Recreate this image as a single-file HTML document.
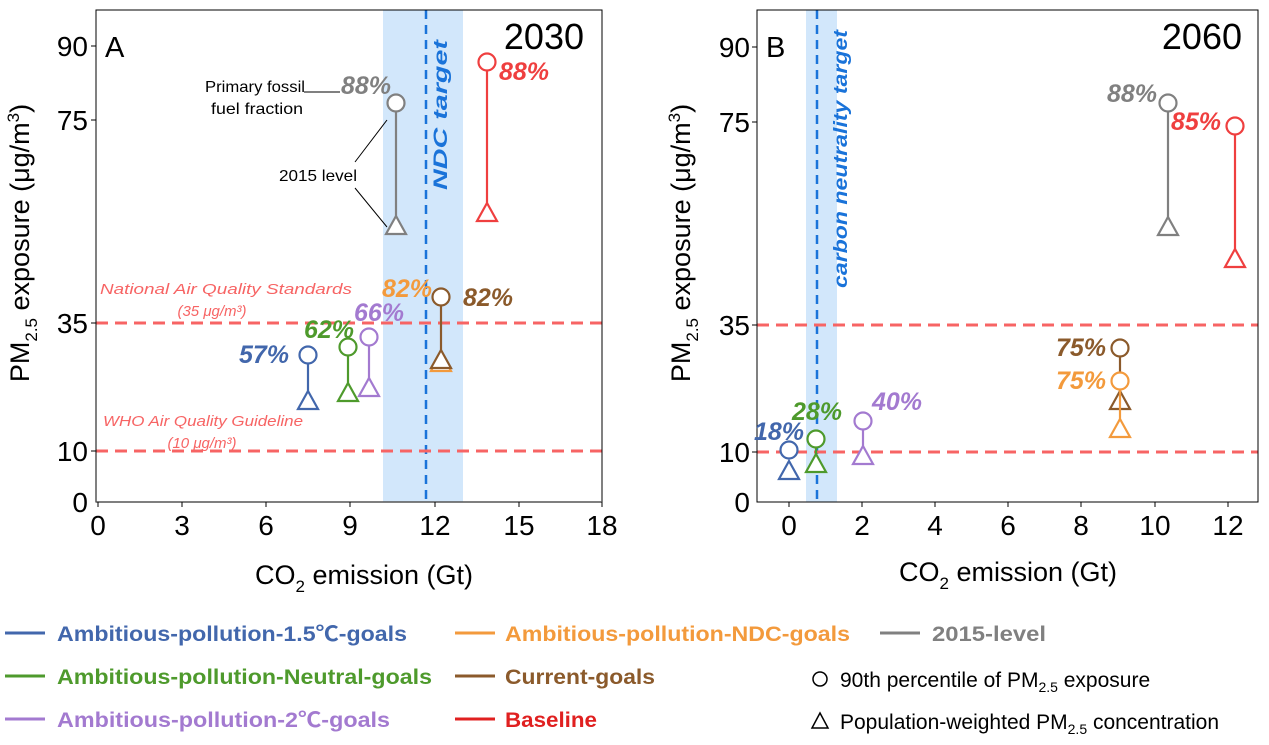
<!DOCTYPE html>
<html><head><meta charset="utf-8"><style>
html,body{margin:0;padding:0;background:#fff;}
svg{display:block;font-family:"Liberation Sans","Noto Sans CJK SC",sans-serif;}
.tk{font-size:28px;fill:#000;}
.pc{font-size:25px;font-weight:bold;font-style:italic;}
.lg{font-size:21px;font-weight:bold;}
</style></head><body>
<svg width="1269" height="745" viewBox="0 0 1269 745" xmlns="http://www.w3.org/2000/svg">
<!-- Panel A -->
<rect x="383" y="10" width="80" height="492" fill="#d2e7fb"/>
<line x1="426" y1="10" x2="426" y2="502" stroke="#1a73d9" stroke-width="2.5" stroke-dasharray="9,6"/>
<text transform="translate(447,190) rotate(-90)" font-size="19" font-weight="bold" font-style="italic" fill="#1a73d9" textLength="150" lengthAdjust="spacingAndGlyphs">NDC target</text>
<line x1="96" y1="323" x2="602" y2="323" stroke="#f76464" stroke-width="3" stroke-dasharray="12,7"/>
<line x1="96" y1="451" x2="602" y2="451" stroke="#f76464" stroke-width="3" stroke-dasharray="12,7"/>
<rect x="96" y="10" width="506" height="492" fill="none" stroke="#000" stroke-width="1"/>
<line x1="96" y1="502" x2="602" y2="502" stroke="#555" stroke-width="1.5"/>
<g class="tk" text-anchor="end">
<text x="88" y="56">90</text><text x="88" y="130">75</text><text x="88" y="333">35</text><text x="88" y="461">10</text><text x="88" y="512">0</text>
</g>
<g stroke="#000"><line x1="91" y1="46" x2="96" y2="46"/><line x1="91" y1="120" x2="96" y2="120"/><line x1="91" y1="323" x2="96" y2="323"/><line x1="91" y1="451" x2="96" y2="451"/>
<line x1="98" y1="502" x2="98" y2="507"/><line x1="182" y1="502" x2="182" y2="507"/><line x1="266" y1="502" x2="266" y2="507"/><line x1="350" y1="502" x2="350" y2="507"/><line x1="435" y1="502" x2="435" y2="507"/><line x1="519" y1="502" x2="519" y2="507"/><line x1="602" y1="502" x2="602" y2="507"/></g>
<g class="tk" text-anchor="middle">
<text x="98" y="535">0</text><text x="182" y="535">3</text><text x="266" y="535">6</text><text x="350" y="535">9</text><text x="435" y="535">12</text><text x="519" y="535">15</text><text x="602" y="535">18</text>
</g>
<text x="364" y="584" font-size="27" text-anchor="middle">CO<tspan font-size="17" dy="8">2</tspan><tspan dy="-8"> emission (Gt)</tspan></text>
<text transform="translate(29,243) rotate(-90)" font-size="27" text-anchor="middle">PM<tspan font-size="17" dy="8">2.5</tspan><tspan dy="-8"> exposure (μg/m</tspan><tspan font-size="17" dy="-10">3</tspan><tspan dy="10">)</tspan></text>
<text x="105" y="57" font-size="29">A</text>
<text x="584" y="49" font-size="36" text-anchor="end">2030</text>
<text x="226" y="294" font-size="15" font-style="italic" fill="#f76464" text-anchor="middle" textLength="252" lengthAdjust="spacingAndGlyphs">National Air Quality Standards</text>
<text x="212" y="316" font-size="15" font-style="italic" fill="#f76464" text-anchor="middle">(35 μg/m³)</text>
<text x="203" y="426" font-size="15" font-style="italic" fill="#f76464" text-anchor="middle" textLength="200" lengthAdjust="spacingAndGlyphs">WHO Air Quality Guideline</text>
<text x="202" y="448" font-size="15" font-style="italic" fill="#f76464" text-anchor="middle">(10 μg/m³)</text>
<text x="255" y="92" font-size="16" text-anchor="middle" textLength="100" lengthAdjust="spacingAndGlyphs">Primary fossil</text>
<text x="257" y="114" font-size="16" text-anchor="middle" textLength="92" lengthAdjust="spacingAndGlyphs">fuel fraction</text>
<line x1="304" y1="92" x2="340" y2="92" stroke="#000" stroke-width="1"/>
<text x="318" y="181" font-size="16" text-anchor="middle" textLength="78" lengthAdjust="spacingAndGlyphs">2015 level</text>
<path d="M355 162 L387 120 M355 188 L387 227" stroke="#000" stroke-width="1" fill="none"/>
<!-- series A -->
<g fill="#fff" stroke-width="2.2">
<g stroke="#808080"><line x1="396" y1="112" x2="396" y2="217"/><circle cx="396" cy="103" r="8.5"/><path d="M386 234 L396 216 L406 234 Z"/></g>
<g stroke="#ef3f3f"><line x1="487" y1="71" x2="487" y2="204"/><circle cx="487" cy="62" r="8.5"/><path d="M477 221 L487 203 L497 221 Z"/></g>
<g stroke="#f39a3c"><path d="M431 371 L441 353 L451 371 Z"/></g>
<g stroke="#8b5a2b"><line x1="441" y1="306" x2="441" y2="354"/><circle cx="441" cy="297" r="8.5"/><path d="M431 368 L441 350 L451 368 Z"/></g>
<g stroke="#a37ad0"><line x1="369" y1="346" x2="369" y2="380"/><circle cx="369" cy="337" r="8.5"/><path d="M359 396 L369 378 L379 396 Z"/></g>
<g stroke="#4e9a2c"><line x1="348" y1="356" x2="348" y2="385"/><circle cx="348" cy="347" r="8.5"/><path d="M338 401 L348 383 L358 401 Z"/></g>
<g stroke="#4267ac"><line x1="308" y1="364" x2="308" y2="392"/><circle cx="308" cy="355" r="8.5"/><path d="M298 409 L308 391 L318 409 Z"/></g>
</g>
<text x="341" y="94" class="pc" fill="#808080">88%</text>
<text x="499" y="80" class="pc" fill="#ef3f3f">88%</text>
<text x="382" y="297" class="pc" fill="#f39a3c">82%</text>
<text x="463" y="306" class="pc" fill="#8b5a2b">82%</text>
<text x="354" y="321" class="pc" fill="#a37ad0">66%</text>
<text x="304" y="338" class="pc" fill="#4e9a2c">62%</text>
<text x="239" y="363" class="pc" fill="#4267ac">57%</text>

<!-- Panel B -->
<rect x="806" y="10" width="31" height="492" fill="#d2e7fb"/>
<line x1="817" y1="10" x2="817" y2="502" stroke="#1a73d9" stroke-width="2.5" stroke-dasharray="9,6"/>
<text transform="translate(847,288) rotate(-90)" font-size="19" font-weight="bold" font-style="italic" fill="#1a73d9" textLength="258" lengthAdjust="spacingAndGlyphs">carbon neutrality target</text>
<line x1="757" y1="325" x2="1258" y2="325" stroke="#f76464" stroke-width="3" stroke-dasharray="12,7"/>
<line x1="757" y1="452" x2="1258" y2="452" stroke="#f76464" stroke-width="3" stroke-dasharray="12,7"/>
<rect x="757" y="10" width="501" height="492" fill="none" stroke="#000" stroke-width="1"/>
<g class="tk" text-anchor="end">
<text x="750" y="57">90</text><text x="750" y="132">75</text><text x="750" y="335">35</text><text x="750" y="462">10</text><text x="750" y="512">0</text>
</g>
<g stroke="#000"><line x1="752" y1="47" x2="757" y2="47"/><line x1="752" y1="122" x2="757" y2="122"/><line x1="752" y1="325" x2="757" y2="325"/><line x1="752" y1="452" x2="757" y2="452"/>
<line x1="789" y1="502" x2="789" y2="507"/><line x1="862" y1="502" x2="862" y2="507"/><line x1="935" y1="502" x2="935" y2="507"/><line x1="1008" y1="502" x2="1008" y2="507"/><line x1="1081" y1="502" x2="1081" y2="507"/><line x1="1155" y1="502" x2="1155" y2="507"/><line x1="1228" y1="502" x2="1228" y2="507"/></g>
<g class="tk" text-anchor="middle">
<text x="789" y="535">0</text><text x="862" y="535">2</text><text x="935" y="535">4</text><text x="1008" y="535">6</text><text x="1081" y="535">8</text><text x="1155" y="535">10</text><text x="1228" y="535">12</text>
</g>
<text x="1008" y="581" font-size="27" text-anchor="middle">CO<tspan font-size="17" dy="8">2</tspan><tspan dy="-8"> emission (Gt)</tspan></text>
<text transform="translate(690,243) rotate(-90)" font-size="27" text-anchor="middle">PM<tspan font-size="17" dy="8">2.5</tspan><tspan dy="-8"> exposure (μg/m</tspan><tspan font-size="17" dy="-10">3</tspan><tspan dy="10">)</tspan></text>
<text x="766" y="57" font-size="29">B</text>
<text x="1242" y="49" font-size="36" text-anchor="end">2060</text>
<g fill="#fff" stroke-width="2.2">
<g stroke="#808080"><line x1="1168" y1="112" x2="1168" y2="218"/><circle cx="1168" cy="103" r="8.5"/><path d="M1158 235 L1168 217 L1178 235 Z"/></g>
<g stroke="#ef3f3f"><line x1="1235" y1="135" x2="1235" y2="250"/><circle cx="1235" cy="126" r="8.5"/><path d="M1225 267 L1235 249 L1245 267 Z"/></g>
<g stroke="#8b5a2b"><line x1="1120" y1="357" x2="1120" y2="392"/><circle cx="1120" cy="348" r="8.5"/><path d="M1110 409 L1120 391 L1130 409 Z"/></g>
<g stroke="#f39a3c"><line x1="1120" y1="390" x2="1120" y2="420"/><circle cx="1120" cy="381" r="8.5"/><path d="M1110 437 L1120 419 L1130 437 Z"/></g>
<g stroke="#a37ad0"><line x1="863" y1="430" x2="863" y2="447"/><circle cx="863" cy="421" r="8.5"/><path d="M853 464 L863 446 L873 464 Z"/></g>
<g stroke="#4e9a2c"><line x1="816" y1="447" x2="816" y2="455"/><circle cx="816" cy="439" r="8.5"/><path d="M806 472 L816 454 L826 472 Z"/></g>
<g stroke="#4267ac"><circle cx="789" cy="450" r="8.5"/><path d="M779 479 L789 461 L799 479 Z"/></g>
</g>
<text x="1107" y="102" class="pc" fill="#808080">88%</text>
<text x="1171" y="130" class="pc" fill="#ef3f3f">85%</text>
<text x="1056" y="356" class="pc" fill="#8b5a2b">75%</text>
<text x="1056" y="389" class="pc" fill="#f39a3c">75%</text>
<text x="872" y="410" class="pc" fill="#a37ad0">40%</text>
<text x="792" y="420" class="pc" fill="#4e9a2c">28%</text>
<text x="754" y="440" class="pc" fill="#4267ac">18%</text>

<!-- Legend -->
<g stroke-width="3">
<line x1="5" y1="633" x2="45" y2="633" stroke="#4267ac"/>
<line x1="5" y1="676" x2="45" y2="676" stroke="#4e9a2c"/>
<line x1="5" y1="719" x2="45" y2="719" stroke="#a37ad0"/>
<line x1="455" y1="633" x2="495" y2="633" stroke="#f39a3c"/>
<line x1="455" y1="676" x2="495" y2="676" stroke="#8b5a2b"/>
<line x1="455" y1="719" x2="495" y2="719" stroke="#e02020"/>
<line x1="880" y1="633" x2="920" y2="633" stroke="#808080"/>
</g>
<text x="57" y="641" class="lg" fill="#4267ac" textLength="350" lengthAdjust="spacingAndGlyphs">Ambitious-pollution-1.5℃-goals</text>
<text x="57" y="684" class="lg" fill="#4e9a2c" textLength="375" lengthAdjust="spacingAndGlyphs">Ambitious-pollution-Neutral-goals</text>
<text x="57" y="727" class="lg" fill="#a37ad0" textLength="333" lengthAdjust="spacingAndGlyphs">Ambitious-pollution-2℃-goals</text>
<text x="505" y="641" class="lg" fill="#f39a3c" textLength="345" lengthAdjust="spacingAndGlyphs">Ambitious-pollution-NDC-goals</text>
<text x="505" y="684" class="lg" fill="#8b5a2b" textLength="150" lengthAdjust="spacingAndGlyphs">Current-goals</text>
<text x="505" y="727" class="lg" fill="#e02020" textLength="92" lengthAdjust="spacingAndGlyphs">Baseline</text>
<text x="932" y="641" class="lg" fill="#808080" textLength="114" lengthAdjust="spacingAndGlyphs">2015-level</text>
<circle cx="820" cy="679" r="7" fill="none" stroke="#000" stroke-width="1.5"/>
<text x="840" y="687" font-size="21">90th percentile of PM<tspan font-size="14" dy="5">2.5</tspan><tspan dy="-5"> exposure</tspan></text>
<path d="M812 728 L820 713 L828 728 Z" fill="none" stroke="#000" stroke-width="1.5"/>
<text x="840" y="729" font-size="21">Population-weighted PM<tspan font-size="14" dy="5">2.5</tspan><tspan dy="-5"> concentration</tspan></text>
</svg>
</body></html>
